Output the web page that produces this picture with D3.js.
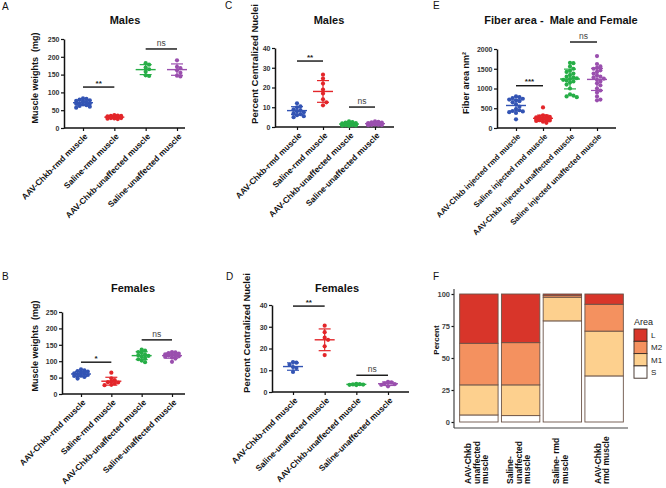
<!DOCTYPE html>
<html>
<head>
<meta charset="utf-8">
<script src="https://d3js.org/d3.v7.min.js"></script>
<title>Muscle panels</title>
<style>
    body { margin: 0px; background: #fff; }
    svg { font-family: "Liberation Sans", Arial, sans-serif; }
    .ylab-tick text { font-size: 7px; font-weight: bold; fill: #333; }
    .tick line { stroke: #111; stroke-width: 1.2; }
    .domain { stroke: #111; stroke-width: 1.5; }
</style>
</head>
<body>
<svg width="666" height="488"></svg>
<script>
// ---- panel A : males, muscle weights ----
const groupsA = ['AAV-Chkb-rmd muscle', 'Saline-rmd muscle', 'AAV-Chkb-unaffected muscle', 'Saline-unaffected muscle'];
const pointsA = [
    [83, 82, 80, 78, 76, 74, 72, 70, 69, 68, 66, 64, 62, 60, 57],
    [36, 35, 34, 34, 33, 32, 32, 31, 31, 30, 30, 29, 28, 28, 27, 26, 25],
    [182, 178, 170, 165, 158, 148, 146],
    [190, 172, 168, 162, 155, 147, 145]
];
const meanA = [71, 30.5, 164, 164];
const sdA = [7, 3, 14, 16];
const ticksA = [0, 50, 100, 150, 200, 250];
const sigA = [{a: 0, b: 1, y: 115, text: '**'}, {a: 2, b: 3, y: 222, text: 'ns'}];

// ---- panel B : females, muscle weights ----
const groupsB = ['AAV-Chkb-rmd muscle', 'Saline-rmd muscle', 'AAV-Chkb-unaffected muscle', 'Saline-unaffected muscle'];
const pointsB = [
    [75, 72, 70, 68, 65, 63, 62, 60, 58, 56, 55, 52, 47],
    [65, 48, 42, 38, 36, 35, 32, 28, 27],
    [135, 132, 128, 125, 120, 118, 116, 113, 110, 106, 102, 97],
    [128, 127, 125, 123, 121, 120, 118, 117, 115, 113, 111, 108, 98]
];
const meanB = [61, 39, 117, 117];
const sdB = [8, 12, 12, 8];
const ticksB = [0, 50, 100, 150, 200, 250];
const sigB = [{a: 0, b: 1, y: 97, text: '*'}, {a: 2, b: 3, y: 165, text: 'ns'}];

// ---- panel C : males, centralized nuclei ----
const groupsC = ['AAV-Chkb-rmd muscle', 'Saline-rmd muscle', 'AAV-Chkb-unaffected muscle', 'Saline-unaffected muscle'];
const pointsC = [
    [12, 10.5, 10, 9, 8.5, 8, 7.5, 7, 6.5, 6, 5.5, 5],
    [26.5, 24.5, 22, 19, 17, 14, 12.5, 11],
    [2.8, 2.5, 2.2, 2, 1.8, 1.6, 1.5, 1.4, 1.3, 1.2, 1.1, 1, 0.9, 0.8, 0.7, 0.6],
    [2.8, 2.6, 2.4, 2.2, 2, 1.8, 1.7, 1.6, 1.5, 1.4, 1.3, 1.2, 1.1, 1, 0.9]
];
const meanC = [8.3, 18, 1.5, 1.7];
const sdC = [2, 5.5, 0.6, 0.6];
const ticksC = [0, 10, 20, 30, 40];
const sigC = [{a: 0, b: 1, y: 33.4, text: '**'}, {a: 2, b: 3, y: 10.1, text: 'ns'}];

// ---- panel D : females, centralized nuclei ----
const groupsD = ['AAV-Chkb-rmd muscle', 'Saline-unaffected muscle', 'AAV-Chkb-unaffected muscle', 'Saline-unaffected muscle'];
const pointsD = [
    [13.8, 13.5, 12.5, 11.5, 11, 9.2],
    [30.5, 27.5, 25, 24, 21, 17],
    [3.8, 3.6, 3.5, 3.4, 3.3, 3.2],
    [4.7, 4.4, 4.0, 3.6, 3.3, 2.6]
];
const meanD = [11.7, 24, 3.5, 3.8];
const sdD = [1.7, 5, 0.25, 0.8];
const ticksD = [0, 10, 20, 30, 40];
const sigD = [{a: 0, b: 1, y: 39.5, text: '**'}, {a: 2, b: 3, y: 7.7, text: 'ns'}];

// ---- panel E : fiber area ----
const groupsE = ['AAV-Chkb injected rmd muscle', 'Saline injected rmd muscle', 'AAV-Chkb injected unaffected muscle', 'Saline injected unaffected muscle'];
const pointsE = [
    [800, 780, 760, 740, 720, 700, 680, 650, 600, 540, 480, 450, 430, 420, 400, 380, 220],
    [520, 320, 300, 290, 280, 270, 260, 250, 245, 240, 230, 220, 210, 200, 190, 180, 160, 130],
    [1650, 1640, 1560, 1500, 1450, 1420, 1380, 1340, 1300, 1280, 1260, 1240, 1220, 1200, 1180, 1150, 1100, 1000, 850, 820, 800, 780],
    [1820, 1620, 1560, 1520, 1500, 1460, 1420, 1380, 1330, 1300, 1280, 1250, 1220, 1180, 1130, 1080, 1000, 950, 900, 800, 720, 700]
];
const meanE = [570, 245, 1240, 1230];
const sdE = [140, 80, 250, 280];
const ticksE = [0, 500, 1000, 1500, 2000];
const sigE = [{a: 0, b: 1, y: 1070, text: '***'}, {a: 2, b: 3, y: 2177, text: 'ns'}];

// ---- panel F : fiber size distribution ----
const categoriesF = [['AAV-Chkb', 'unaffected', 'muscle'], ['Saline-', 'unaffected', 'muscle'], ['Saline- rmd', 'muscle'], ['AAV-Chkb', 'rmd muscle']];
const areaKeys = ['S', 'M1', 'M2', 'L'];
const areaS = [5.5, 5, 79, 36];
const areaM1 = [23.5, 24, 18.5, 35];
const areaM2 = [32.5, 33, 1.5, 21];
const areaL = [38.5, 38, 1, 8];
const ticksF = [0, 25, 50, 75, 100];

const groupColors = ['#3354b4', '#e3262a', '#27ae47', '#9a4fae'];
const areaColors = {L: '#d8352a', M2: '#f4915f', M1: '#fdd08e', S: '#ffffff'};

const svg = d3.select('svg');

// deterministic swarm: slide points sideways (within maxOff) to reduce overlap
function swarm(values, y, step, maxOff) {
    const placed = [];
    const out = values.map(v => ({v: v, y: y(v), dx: 0}));
    out.slice().sort((p, q) => p.y - q.y).forEach(p => {
        let best = 0, bestD = -1;
        for (let k = 0; k < 60; k++) {
            const off = k === 0 ? 0 : (k % 2 ? 1 : -1) * Math.ceil(k / 2) * step;
            if (Math.abs(off) > maxOff) break;
            let d = Infinity;
            placed.forEach(o => { d = Math.min(d, Math.hypot(o.dx - off, o.y - p.y)); });
            if (d >= step * 0.95) { best = off; bestD = d; break; }
            if (d > bestD) { best = off; bestD = d; }
        }
        p.dx = best;
        placed.push(p);
    });
    return out;
}

function dotPanel(c) {
    const g = svg.append('g');
    const y = d3.scaleLinear().domain([0, c.ticks[c.ticks.length - 1]]).range([c.bottom, c.top]);
    const x = d3.scalePoint().domain(d3.range(c.groups.length)).range([c.x0, c.x1]);

    // axes
    g.append('g').attr('class', 'ylab-tick')
        .attr('transform', `translate(${c.axisX},0)`)
        .call(d3.axisLeft(y).tickValues(c.ticks).tickFormat(d3.format('d'))
            .tickSize(3).tickSizeOuter(0).tickPadding(1.5));
    const xa = g.append('g')
        .attr('transform', `translate(0,${c.bottom})`)
        .call(d3.axisBottom(x).tickSize(3).tickSizeOuter(0).tickFormat(''));
    xa.select('.domain').remove();
    g.append('line')
        .attr('x1', c.axisX).attr('x2', c.xEnd)
        .attr('y1', c.bottom).attr('y2', c.bottom)
        .attr('stroke', '#111').attr('stroke-width', 1.5);

    // points, mean and SD
    c.points.forEach((vals, i) => {
        const col = groupColors[i];
        swarm(vals, y, 3.4, 10).forEach(p => {
            g.append('circle')
                .attr('cx', x(i) + p.dx).attr('cy', p.y)
                .attr('r', 2.1).attr('fill', col);
        });
        const m = c.mean[i], s = c.sd[i];
        g.append('line').attr('x1', x(i)).attr('x2', x(i))
            .attr('y1', y(m - s)).attr('y2', y(m + s))
            .attr('stroke', col).attr('stroke-width', 1.2);
        [m - s, m + s].forEach(v => {
            g.append('line').attr('x1', x(i) - 6).attr('x2', x(i) + 6)
                .attr('y1', y(v)).attr('y2', y(v))
                .attr('stroke', col).attr('stroke-width', 1.2);
        });
        g.append('line').attr('x1', x(i) - 10).attr('x2', x(i) + 10)
            .attr('y1', y(m)).attr('y2', y(m))
            .attr('stroke', col).attr('stroke-width', 1.4);
    });

    // significance bars
    c.sig.forEach(s => {
        g.append('line')
            .attr('x1', x(s.a)).attr('x2', x(s.b))
            .attr('y1', y(s.y)).attr('y2', y(s.y))
            .attr('stroke', '#111').attr('stroke-width', 1.4);
        g.append('text')
            .attr('x', (x(s.a) + x(s.b)) / 2)
            .attr('y', y(s.y) - (s.text === 'ns' ? 3 : 1.5))
            .attr('text-anchor', 'middle')
            .style('font-size', s.text === 'ns' ? '8.5px' : '8px')
            .style('font-weight', s.text === 'ns' ? 'normal' : 'bold')
            .style('fill', s.text === 'ns' ? '#444' : '#222')
            .text(s.text);
    });

    // category labels
    c.groups.forEach((name, i) => {
        g.append('text')
            .attr('transform', `translate(${x(i) + 3},${c.bottom + 7}) rotate(-45)`)
            .attr('text-anchor', 'end')
            .attr('dy', '0.35em')
            .style('font-size', c.labSize + 'px')
            .style('font-weight', 'bold')
            .style('fill', '#111')
            .text(name);
    });

    // y label, title, letter
    g.append('text')
        .attr('transform', `translate(${c.ylx},${c.yly}) rotate(-90)`)
        .attr('text-anchor', 'middle').attr('dy', '0.35em')
        .style('font-size', c.ylSize + 'px').style('font-weight', 'bold')
        .style('white-space', 'pre').style('fill', '#111')
        .text(c.ylab);
    g.append('text')
        .attr('x', c.tx).attr('y', c.ty)
        .attr('text-anchor', 'middle')
        .style('font-size', '11px').style('font-weight', 'bold')
        .style('white-space', 'pre').style('fill', '#111')
        .text(c.title);
    g.append('text')
        .attr('x', c.lx).attr('y', c.ly)
        .style('font-size', '10px').style('fill', '#111')
        .text(c.letter);
}

dotPanel({letter: 'A', lx: 2, ly: 10, title: 'Males', tx: 125, ty: 24,
    groups: groupsA, points: pointsA, mean: meanA, sd: sdA, ticks: ticksA, sig: sigA,
    axisX: 64, xEnd: 185, top: 39, bottom: 128, x0: 83, x1: 177,
    ylab: 'Muscle weights  (mg)', ylx: 35, yly: 78, ylSize: 9, labSize: 8.3});

dotPanel({letter: 'B', lx: 2, ly: 280, title: 'Females', tx: 133, ty: 292,
    groups: groupsB, points: pointsB, mean: meanB, sd: sdB, ticks: ticksB, sig: sigB,
    axisX: 62, xEnd: 185, top: 312, bottom: 394, x0: 81, x1: 172,
    ylab: 'Muscle weights  (mg)', ylx: 35, yly: 346, ylSize: 9, labSize: 8.3});

dotPanel({letter: 'C', lx: 225, ly: 9, title: 'Males', tx: 329, ty: 24,
    groups: groupsC, points: pointsC, mean: meanC, sd: sdC, ticks: ticksC, sig: sigC,
    axisX: 275, xEnd: 394, top: 48, bottom: 127, x0: 297, x1: 375,
    ylab: 'Percent Centralized Nuclei', ylx: 255, yly: 64, ylSize: 9.5, labSize: 8.3});

dotPanel({letter: 'D', lx: 226, ly: 280, title: 'Females', tx: 337, ty: 292,
    groups: groupsD, points: pointsD, mean: meanD, sd: sdD, ticks: ticksD, sig: sigD,
    axisX: 272, xEnd: 409, top: 305, bottom: 392, x0: 293, x1: 388,
    ylab: 'Percent Centralized Nuclei', ylx: 247, yly: 333, ylSize: 9.5, labSize: 8.3});

dotPanel({letter: 'E', lx: 433, ly: 9, title: 'Fiber area -  Male and Female', tx: 561, ty: 24,
    groups: groupsE, points: pointsE, mean: meanE, sd: sdE, ticks: ticksE, sig: sigE,
    axisX: 497, xEnd: 616, top: 49, bottom: 128, x0: 516, x1: 597,
    ylab: 'Fiber area nm\u00b2', ylx: 466, yly: 83, ylSize: 9, labSize: 7.8});

// ---- panel F: stacked bars ----
(function () {
    const g = svg.append('g');
    const rows = categoriesF.map((lines, i) => ({i: i, S: areaS[i], M1: areaM1[i], M2: areaM2[i], L: areaL[i]}));
    const series = d3.stack().keys(areaKeys)(rows);
    const x = d3.scaleBand().domain(d3.range(categoriesF.length))
        .range([458, 625]).paddingInner(0.08).paddingOuter(0.04);
    const y = d3.scaleLinear().domain([0, 100]).range([422, 294]);

    series.forEach(s => {
        g.selectAll(null).data(s).enter().append('rect')
            .attr('x', d => x(d.data.i))
            .attr('width', x.bandwidth())
            .attr('y', d => y(d[1]))
            .attr('height', d => y(d[0]) - y(d[1]))
            .attr('fill', areaColors[s.key])
            .attr('stroke', '#6b5347').attr('stroke-width', 0.9);
    });

    const ya = g.append('g')
        .attr('transform', 'translate(454,0)')
        .call(d3.axisLeft(y).tickValues(ticksF).tickSize(2.5).tickSizeOuter(0).tickPadding(1.5));
    ya.select('.domain').remove();
    ya.selectAll('.tick line').attr('stroke', '#444');
    ya.selectAll('text').style('font-size', '7.5px').style('font-weight', 'bold').style('fill', '#444');
    g.append('line').attr('x1', 454).attr('x2', 454).attr('y1', 289).attr('y2', 428)
        .attr('stroke', '#444').attr('stroke-width', 1.2);
    g.append('line').attr('x1', 454).attr('x2', 628).attr('y1', 428).attr('y2', 428)
        .attr('stroke', '#444').attr('stroke-width', 1.2);

    g.append('text')
        .attr('transform', 'translate(436,340) rotate(-90)')
        .attr('text-anchor', 'middle').attr('dy', '0.35em')
        .style('font-size', '8px').style('font-weight', 'bold').style('fill', '#111')
        .text('Percent');

    categoriesF.forEach((lines, i) => {
        const cx = x(i) + x.bandwidth() / 2;
        lines.forEach((t, j) => {
            const col = cx + (j - (lines.length - 1) / 2) * 8.4 - 2;
            g.append('text')
                .attr('transform', `translate(${col + 3},484) rotate(-90)`)
                .style('font-size', '8.5px').style('font-weight', 'bold').style('fill', '#111')
                .text(t);
        });
    });

    // legend
    const lg = g.append('g');
    lg.append('text').attr('x', 634).attr('y', 325)
        .style('font-size', '9px').style('fill', '#222').text('Area');
    areaKeys.slice().reverse().forEach((k, j) => {
        lg.append('rect')
            .attr('x', 634).attr('y', 329 + j * 12.3)
            .attr('width', 13).attr('height', 12.3)
            .attr('fill', areaColors[k])
            .attr('stroke', '#3a2a22').attr('stroke-width', 0.9);
        lg.append('text').attr('x', 651).attr('y', 329 + j * 12.3 + 9)
            .style('font-size', '8px').style('fill', '#222').text(k);
    });

    g.append('text').attr('x', 433).attr('y', 280)
        .style('font-size', '10px').style('fill', '#111').text('F');
})();
</script>
</body>
</html>
